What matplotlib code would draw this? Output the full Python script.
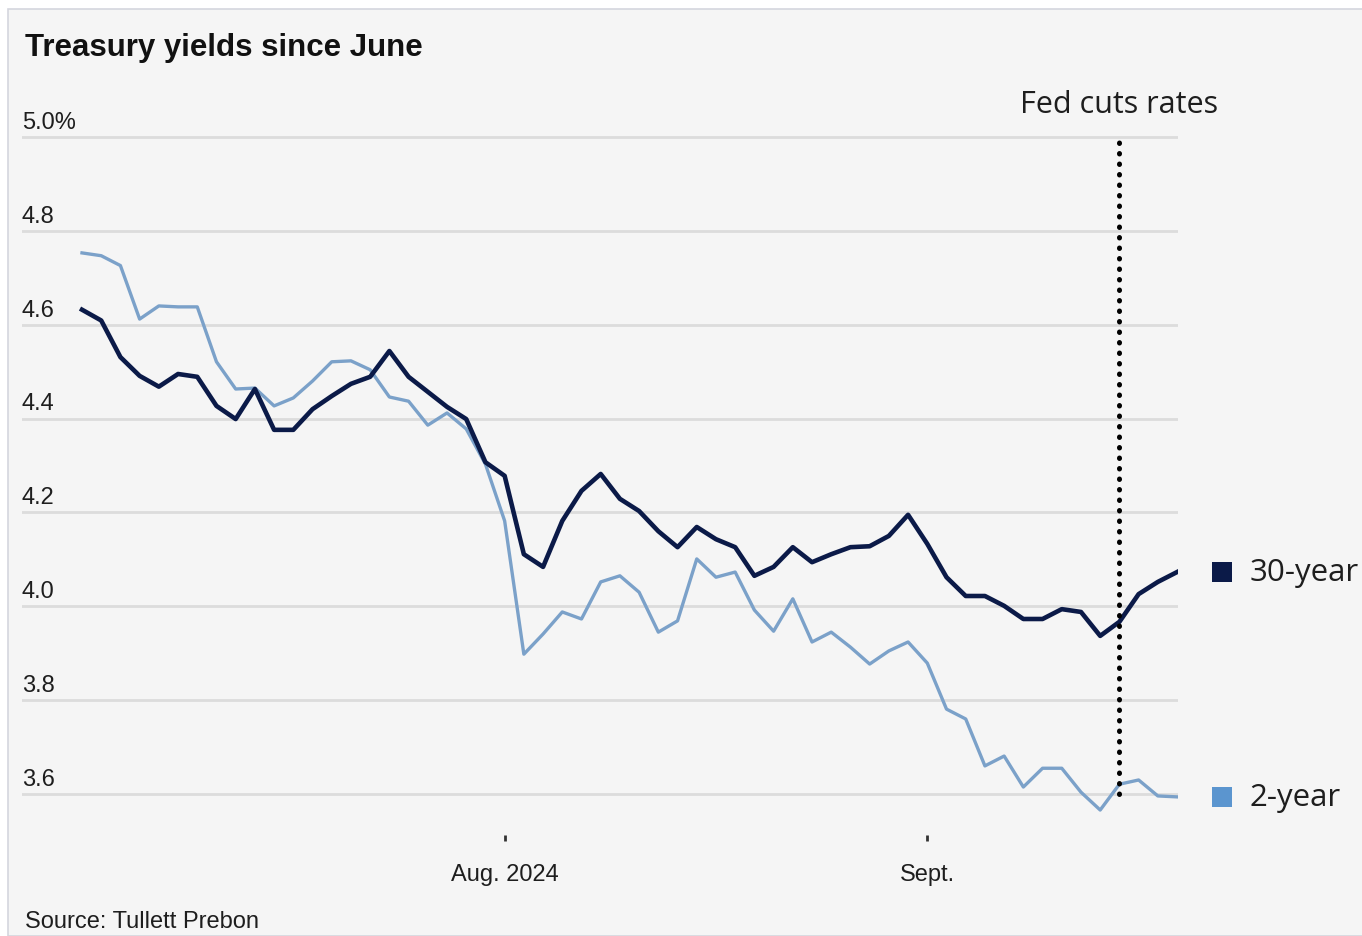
import numpy as np
from matplotlib import pyplot as plt
from matplotlib.patches import Rectangle

# daily closing yields, percent (trading days, late June to Sept. 20, 2024)
yield_30y = [4.632, 4.609, 4.531, 4.491, 4.468, 4.495, 4.489, 4.427, 4.399, 4.463,
             4.376, 4.376, 4.420, 4.448, 4.474, 4.489, 4.544, 4.489, 4.457, 4.425,
             4.399, 4.307, 4.278, 4.111, 4.084, 4.182, 4.246, 4.282, 4.229, 4.203,
             4.160, 4.126, 4.169, 4.143, 4.126, 4.065, 4.084, 4.126, 4.094, 4.111,
             4.126, 4.128, 4.150, 4.195, 4.133, 4.062, 4.022, 4.022, 4.001, 3.973,
             3.973, 3.994, 3.988, 3.937, 3.967, 4.026, 4.052, 4.073]
yield_2y = [4.753, 4.747, 4.726, 4.612, 4.640, 4.638, 4.638, 4.521, 4.463, 4.465,
            4.427, 4.444, 4.480, 4.521, 4.523, 4.504, 4.446, 4.437, 4.386, 4.412,
            4.378, 4.303, 4.182, 3.898, 3.941, 3.988, 3.973, 4.052, 4.065, 4.030,
            3.945, 3.969, 4.101, 4.062, 4.073, 3.992, 3.947, 4.016, 3.924, 3.945,
            3.913, 3.877, 3.905, 3.924, 3.879, 3.781, 3.760, 3.660, 3.681, 3.615,
            3.655, 3.655, 3.604, 3.566, 3.621, 3.630, 3.596, 3.594]

series_names = ['30-year', '2-year']
y_ticks = [3.6, 3.8, 4.0, 4.2, 4.4, 4.6, 4.8, 5.0]
y_tick_labels = ['3.6', '3.8', '4.0', '4.2', '4.4', '4.6', '4.8', '5.0%']
x_tick_days = [22, 44]
x_tick_labels = ['Aug. 2024', 'Sept.']
fed_cut_day = 54
fed_label = 'Fed cuts rates'

dark = '#0b1a48'
light_line = '#7ba1c9'
light_box = '#5b95cf'
text_color = '#1e1e1e'
grid_color = '#dcdcdc'
bg = '#f5f5f5'

days = np.arange(len(yield_30y))

fig = plt.figure(figsize=(13.62, 9.37), dpi=100, facecolor='white')
fig.patches.append(Rectangle((8 / 1362, 0), 1, 1 - 10 / 937, transform=fig.transFigure,
                             facecolor=bg, edgecolor='#d4d6de', linewidth=1.2, zorder=-5))

ax = fig.add_axes([22 / 1362, 1 - 842 / 937, 1156 / 1362, (842 - 114.5) / 937])
ax.set_facecolor(bg)
ax.patch.set_alpha(0)
ax.set_xlim(-3.123, len(days) - 1 + 0.05)
ax.set_ylim(3.5, 5.05)

for spine in ax.spines.values():
    spine.set_visible(False)

# horizontal gridlines with labels sitting on top of them
for value, label in zip(y_ticks, y_tick_labels):
    ax.axhline(value, color=grid_color, linewidth=2, zorder=0)
    ax.annotate(label, xy=(0, value), xycoords=('axes fraction', 'data'),
                xytext=(0, 3), textcoords='offset points', ha='left', va='bottom',
                fontsize=17, family='Liberation Sans', color=text_color)
ax.set_yticks([])

ax.set_xticks(x_tick_days)
ax.set_xticklabels(x_tick_labels, fontsize=17, family='Liberation Sans', color=text_color)
ax.tick_params(axis='x', direction='in', length=4, width=2, color='#333333', pad=16)

ax.plot(days, yield_2y, color=light_line, linewidth=2.4, solid_joinstyle='round', zorder=3)
ax.plot(days, yield_30y, color=dark, linewidth=3.3, solid_joinstyle='round', zorder=4)

# Fed cut marker
ax.vlines(fed_cut_day, y_ticks[0], y_ticks[-1], colors='black', linewidth=3.6,
          linestyles=[(0, (0.1, 2.0))], capstyle='round', zorder=5)
ax.annotate(fed_label, xy=(fed_cut_day, y_ticks[-1]), xytext=(0, 24), textcoords='offset points',
            ha='center', va='center', fontsize=22, family='Open Sans', color=text_color,
            annotation_clip=False)

# end-of-line labels
for name, values, box_color in [(series_names[0], yield_30y, dark),
                                (series_names[1], yield_2y, light_box)]:
    ax.scatter([days[-1] + 2.35], [values[-1]], marker='s', s=210, color=box_color,
               clip_on=False, zorder=6, linewidths=0)
    ax.annotate(name, xy=(days[-1], values[-1]), xytext=(52, 0), textcoords='offset points',
                ha='left', va='center', fontsize=22.5, family='Open Sans', color=text_color,
                annotation_clip=False)

fig.text(25 / 1362, 1 - 48 / 937, 'Treasury yields since June', ha='left', va='center',
         fontsize=22.5, fontweight='bold', family='Liberation Sans', color='#111111')
fig.text(25 / 1362, 1 - 933 / 937, 'Source: Tullett Prebon', ha='left', va='bottom',
         fontsize=17, family='Liberation Sans', color=text_color)

fig.savefig('out.png', dpi=100, facecolor=fig.get_facecolor())
plt.close(fig)
